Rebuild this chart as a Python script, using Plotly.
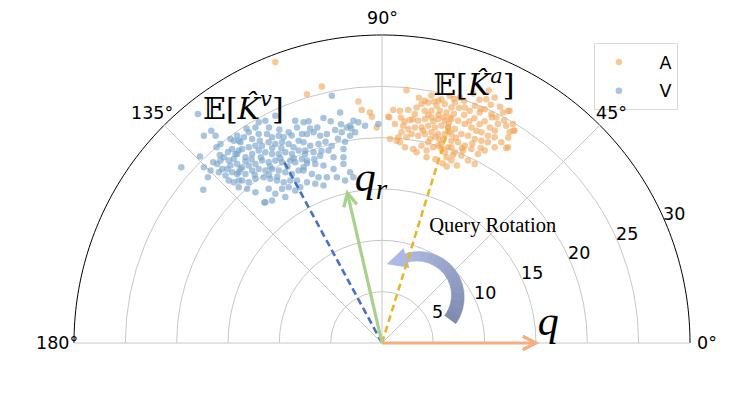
import numpy as np
import plotly.graph_objects as go

# ---------------- data ----------------
# Scatter clouds: Cartesian components in radial-axis units (x = r cos(theta), y = r sin(theta))
a_points = [
    (2.39, 24.63), (0.61, 22.04), (1.10, 22.69), (1.75, 22.62), (1.84, 21.97), (2.56, 22.69),
    (2.72, 21.72), (3.20, 22.30), (3.37, 22.95), (3.85, 23.27), (4.17, 23.59), (4.50, 23.43),
    (5.08, 23.53), (5.31, 23.11), (5.79, 23.75), (6.12, 23.27), (4.17, 22.62), (4.82, 22.62),
    (5.63, 22.62), (6.28, 22.46), (6.76, 22.95), (3.53, 21.65), (4.17, 21.81), (4.82, 21.97),
    (5.47, 21.81), (6.12, 21.65), (6.60, 21.97), (1.26, 21.33), (2.07, 21.17), (2.56, 20.84),
    (3.20, 21.00), (3.85, 21.00), (4.50, 21.17), (5.15, 21.00), (5.79, 21.17), (6.44, 21.00),
    (0.78, 19.87), (1.59, 20.03), (1.91, 20.52), (2.39, 20.03), (2.88, 20.36), (3.53, 20.19),
    (4.17, 20.36), (4.82, 20.52), (5.47, 20.36), (6.12, 20.36), (6.76, 20.36), (1.42, 19.71),
    (2.23, 19.06), (3.04, 18.90), (3.37, 18.58), (3.85, 19.22), (4.34, 18.74), (4.50, 19.55),
    (4.98, 19.06), (5.47, 19.22), (5.79, 19.39), (6.12, 18.58), (6.28, 18.09), (6.76, 19.06),
    (4.34, 18.09), (1.75, 19.55),
    (10.97, 23.92), (10.16, 23.75), (6.60, 24.08), (7.09, 23.43), (8.06, 22.95), (8.54, 22.62),
    (9.03, 23.11), (9.52, 22.46), (10.00, 22.78), (10.65, 22.30), (11.13, 21.97), (11.78, 22.46),
    (12.43, 22.62), (11.29, 21.33), (12.10, 21.17), (12.75, 21.33), (12.91, 20.68), (12.43, 20.52),
    (12.27, 19.06), (11.62, 19.55), (10.97, 20.03), (10.32, 20.19), (9.68, 20.52), (9.19, 20.68),
    (8.71, 21.00), (8.06, 21.33), (7.41, 21.65), (6.76, 21.81), (6.44, 21.00), (7.09, 20.84),
    (7.73, 20.36), (8.38, 20.19), (9.03, 19.87), (9.68, 19.71), (10.32, 19.55), (10.97, 19.06),
    (10.00, 18.74), (9.35, 18.41), (8.71, 18.90), (8.06, 19.22), (7.41, 19.55), (6.76, 19.71),
    (6.44, 19.06), (7.09, 18.58), (7.73, 18.25), (8.38, 17.77), (9.03, 17.44), (6.76, 17.77),
    (7.90, 18.74), (5.90, 17.50), (6.30, 17.20), (5.20, 17.90), (7.30, 17.30),
    (4.50, 22.20), (5.00, 21.60), (5.50, 22.20), (6.00, 22.00), (6.50, 21.40), (7.00, 22.30),
    (7.50, 22.90), (8.00, 22.20), (8.50, 21.60), (9.00, 21.90), (9.50, 21.30), (10.00, 21.60),
    (4.00, 20.70), (5.20, 20.10), (6.00, 19.90), (6.50, 20.60), (7.20, 20.00), (7.80, 19.00),
    (8.80, 19.40), (9.60, 19.00), (5.60, 19.80), (4.70, 19.90), (6.90, 18.30), (5.80, 18.90),
    (3.00, 21.80), (2.20, 21.60), (7.60, 23.90), (8.90, 24.30), (9.50, 23.70), (11.50, 23.00),
    (10.60, 23.20), (11.90, 21.70), (12.30, 20.00), (11.00, 20.70), (10.50, 21.00), (3.60, 23.90),
    (4.80, 24.10), (10.40, 24.60), (12.30, 22.60), (12.80, 20.70), (12.10, 19.00), (0.70, 22.00),
    (5.50, 23.60), (7.00, 23.80), (8.00, 23.60), (9.60, 22.80), (10.70, 22.00),
    (-10.39, 27.38), (-7.31, 24.24), (-5.86, 24.98), (-2.30, 23.53), (-1.97, 22.69),
    (-1.17, 22.46), (-0.97, 22.04), (-0.52, 21.00),
]

v_points = [
    (-17.93, 22.30), (-17.35, 20.19), (-16.63, 20.68), (-16.21, 20.19), (-15.73, 19.39),
    (-16.12, 19.06), (-17.73, 18.16), (-19.55, 17.12), (-17.35, 17.12), (-16.96, 16.15),
    (-17.41, 14.92), (-16.44, 17.61), (-16.05, 17.44), (-15.73, 17.77), (-15.57, 16.96),
    (-15.24, 16.31), (-14.92, 15.83), (-14.43, 15.66), (-14.60, 16.63), (-14.76, 17.28),
    (-14.92, 17.77), (-14.43, 17.93), (-14.11, 17.44), (-14.27, 18.41), (-13.95, 18.74),
    (-14.43, 19.71), (-14.76, 19.87), (-14.11, 20.19), (-13.79, 19.55), (-14.11, 16.47),
    (-13.79, 16.96), (-15.08, 16.96), (-15.40, 18.09), (-16.70, 16.80), (-15.89, 16.63),
    (-13.95, 15.83),
    (-10.39, 22.14), (-11.36, 21.65), (-12.33, 21.00), (-12.98, 20.52), (-13.46, 20.03),
    (-13.95, 19.71), (-12.65, 19.87), (-12.01, 20.36), (-11.20, 20.36), (-10.71, 20.03),
    (-10.06, 20.19), (-9.58, 20.03), (-9.09, 20.52), (-8.28, 21.00), (-8.45, 21.65),
    (-7.64, 21.49), (-7.80, 20.36), (-8.12, 19.71), (-8.61, 19.06), (-9.09, 19.39),
    (-9.74, 19.55), (-10.39, 19.39), (-11.04, 19.55), (-11.68, 19.22), (-12.33, 19.22),
    (-12.98, 19.06), (-13.62, 18.90), (-14.11, 18.41), (-13.30, 18.09), (-12.65, 18.41),
    (-12.01, 18.74), (-11.36, 18.58), (-10.71, 18.41), (-10.06, 18.41), (-9.42, 18.58),
    (-8.77, 18.41), (-8.12, 18.74), (-7.48, 18.74), (-7.80, 17.93), (-8.45, 17.61),
    (-8.93, 17.77), (-9.74, 17.61), (-10.39, 17.77), (-11.04, 17.61), (-11.68, 17.77),
    (-12.33, 17.44), (-12.98, 17.28), (-13.62, 17.12), (-13.95, 16.63), (-13.30, 16.47),
    (-12.65, 16.80), (-12.01, 16.96), (-11.36, 16.80), (-10.71, 16.96), (-10.06, 16.80),
    (-9.42, 16.63), (-8.77, 16.47), (-8.12, 16.80), (-7.64, 17.12), (-8.28, 15.83),
    (-8.93, 15.83), (-9.58, 15.66), (-10.23, 15.83), (-10.87, 15.99), (-11.52, 16.15),
    (-12.33, 15.99), (-12.98, 15.66), (-13.62, 15.83), (-13.95, 15.18), (-13.14, 15.02),
    (-12.33, 14.69), (-11.04, 15.02), (-10.39, 14.53), (-9.74, 15.02), (-9.09, 15.18),
    (-8.45, 14.85), (-7.96, 15.18), (-11.36, 13.72), (-10.71, 13.88), (-9.42, 14.21),
    (-4.89, 24.08), (-4.08, 22.46), (-5.70, 21.91), (-7.15, 21.59), (-2.78, 21.65),
    (-2.30, 21.49), (-3.11, 21.17), (-3.43, 21.00), (-2.62, 20.52), (-3.92, 20.52),
    (-4.56, 20.74), (-5.37, 20.36), (-6.02, 20.19), (-6.67, 20.52), (-7.31, 20.36),
    (-7.64, 19.55), (-6.99, 19.22), (-6.18, 19.39), (-7.48, 18.41), (-6.67, 18.58),
    (-6.02, 18.25), (-5.21, 18.74), (-4.72, 18.09), (-3.75, 18.90), (-3.11, 20.19),
    (-3.75, 18.09), (-7.31, 17.77), (-6.50, 17.44), (-5.70, 17.28), (-4.72, 16.96),
    (-3.75, 17.44), (-3.11, 16.63), (-7.64, 16.80), (-6.83, 16.47), (-6.18, 16.15),
    (-5.37, 16.15), (-4.40, 16.15), (-3.59, 15.82), (-2.78, 16.15), (-5.70, 15.34),
    (-6.50, 15.50), (-7.31, 15.66), (-1.65, 21.17), (-0.36, 21.33), (-11.46, 13.69),
    (-11.80, 18.10), (-10.90, 17.20), (-9.90, 18.00), (-9.20, 17.20), (-12.70, 17.90),
    (-13.30, 17.70), (-11.00, 16.40), (-10.20, 16.20), (-12.40, 16.40), (-9.80, 19.00),
    (-10.70, 19.00), (-11.90, 19.70), (-8.60, 18.00), (-7.30, 17.50), (-6.60, 17.90),
    (-5.90, 18.70), (-5.50, 19.60), (-4.90, 19.20), (-4.30, 19.90), (-3.60, 19.60),
    (-3.00, 20.90), (-4.00, 21.30), (-5.00, 21.60), (-6.30, 21.00), (-7.00, 20.90),
    (-8.80, 20.20), (-10.00, 20.80), (-11.00, 21.00), (-12.00, 21.50), (-13.20, 20.90),
    (-14.60, 18.90), (-15.00, 18.60), (-15.80, 18.30),
]

angle_ticks = [0, 45, 90, 135, 180]
angle_labels = ["0°", "45°", "90°", "135°", "180°"]
radial_ticks = [5, 10, 15, 20, 25, 30]
radial_max = 30

# vectors (angle in degrees, length in radial units)
q_theta, q_len = 0.0, 15.0
qr_theta, qr_len = 103.0, 15.0
ka_theta, ka_len = 72.8, 21.9
kv_theta, kv_len = 118.4, 20.2

# ---------------- styles ----------------
COL_A = "#F2A65A"
COL_V = "#77A2CC"
COL_Q = "#F3B07E"
COL_QR = "#A9D18E"
COL_KA = "#E9B52C"
COL_KV = "#4A6FC8"
GRID = "#C8C8C8"
TICK_FONT = dict(family="DejaVu Sans", size=17.5, color="black")
SERIF = "Liberation Serif, DejaVu Serif, serif"
MATH = "DejaVu Serif, DejaVu Sans, serif"


def to_polar(x, y):
    x = np.asarray(x, dtype=float)
    y = np.asarray(y, dtype=float)
    return np.hypot(x, y), np.degrees(np.arctan2(y, x))


def to_paper(x, y):
    # the half-disc [0, 180] x [0, radial_max] fills the whole plotting domain
    return (x + radial_max) / (2 * radial_max), y / radial_max


def chevron_xy(theta, length, wing=1.45, spread=27.0):
    t = np.radians(theta)
    tip = np.array([length * np.cos(t), length * np.sin(t)])
    xs, ys = [], []
    for s in (spread, None, -spread):
        if s is None:
            xs.append(tip[0]); ys.append(tip[1])
        else:
            a = t + np.pi + np.radians(s)
            xs.append(tip[0] + wing * np.cos(a)); ys.append(tip[1] + wing * np.sin(a))
    return xs, ys


fig = go.Figure()

# ---------------- curved "Query Rotation" arrow (decoration) ----------------
ROT_C = (3.50, 4.56)
ROT_R = 3.88
ROT_A0, ROT_A1 = -36.0, 107.0
W0, W1 = 1.36, 0.87
HEAD_LEN, HEAD_HALF = 1.94, 0.97
C_DARK = np.array([0x7E, 0x8B, 0xAF])
C_LIGHT = np.array([0xAD, 0xB9, 0xE1])
nseg = 14
edges = np.linspace(ROT_A0, ROT_A1, nseg + 1)
for i in range(nseg):
    a = np.radians(np.linspace(edges[i], edges[i + 1] + 0.6, 6))
    f0 = i / nseg
    f1 = (i + 1) / nseg
    w = np.linspace(W0 + (W1 - W0) * f0, W0 + (W1 - W0) * f1, len(a))
    ox = ROT_C[0] + (ROT_R + w / 2) * np.cos(a)
    oy = ROT_C[1] + (ROT_R + w / 2) * np.sin(a)
    ix = ROT_C[0] + (ROT_R - w[::-1] / 2) * np.cos(a[::-1])
    iy = ROT_C[1] + (ROT_R - w[::-1] / 2) * np.sin(a[::-1])
    px = np.concatenate([ox, ix, ox[:1]])
    py = np.concatenate([oy, iy, oy[:1]])
    rr, tt = to_polar(px, py)
    c = C_DARK + (C_LIGHT - C_DARK) * ((f0 + f1) / 2)
    col = "rgb(%d,%d,%d)" % tuple(c.astype(int))
    fig.add_trace(go.Scatterpolar(r=rr, theta=tt, mode="lines", fill="toself",
                                  fillcolor=col, line=dict(color=col, width=0.5),
                                  showlegend=False, hoverinfo="skip"))
ae = np.radians(ROT_A1)
base_o = (ROT_C[0] + (ROT_R + HEAD_HALF) * np.cos(ae), ROT_C[1] + (ROT_R + HEAD_HALF) * np.sin(ae))
base_i = (ROT_C[0] + (ROT_R - HEAD_HALF) * np.cos(ae), ROT_C[1] + (ROT_R - HEAD_HALF) * np.sin(ae))
mid = (ROT_C[0] + ROT_R * np.cos(ae), ROT_C[1] + ROT_R * np.sin(ae))
tip = (mid[0] - HEAD_LEN * np.sin(ae), mid[1] + HEAD_LEN * np.cos(ae))
hx = [base_o[0], tip[0], base_i[0], base_o[0]]
hy = [base_o[1], tip[1], base_i[1], base_o[1]]
rr, tt = to_polar(hx, hy)
colh = "rgb(%d,%d,%d)" % tuple(C_LIGHT)
fig.add_trace(go.Scatterpolar(r=rr, theta=tt, mode="lines", fill="toself",
                              fillcolor=colh, line=dict(color=colh, width=0.5),
                              showlegend=False, hoverinfo="skip"))

# ---------------- scatter clouds ----------------
ar, at = to_polar([p[0] for p in a_points], [p[1] for p in a_points])
vr, vt = to_polar([p[0] for p in v_points], [p[1] for p in v_points])
NBSP = "\u00a0"
fig.add_trace(go.Scatterpolar(r=ar, theta=at, mode="markers", name=NBSP * 3 + "A", legendgroup="A",
                              marker=dict(color=COL_A, size=6.5, opacity=0.62, line=dict(width=0))))
fig.add_trace(go.Scatterpolar(r=vr, theta=vt, mode="markers", name=NBSP * 3 + "V", legendgroup="V",
                              marker=dict(color=COL_V, size=6.5, opacity=0.64, line=dict(width=0))))

# ---------------- dashed mean directions ----------------
fig.add_trace(go.Scatterpolar(r=[0, ka_len], theta=[ka_theta, ka_theta], mode="lines",
                              line=dict(color=COL_KA, width=2.6, dash="7px,4px"),
                              showlegend=False, hoverinfo="skip"))
fig.add_trace(go.Scatterpolar(r=[0, kv_len], theta=[kv_theta, kv_theta], mode="lines",
                              line=dict(color=COL_KV, width=2.6, dash="7px,4px"),
                              showlegend=False, hoverinfo="skip"))

shapes = []
# ---------------- outer boundary arc (the polar frame, arc only) ----------------
arc_t = np.radians(np.linspace(0, 180, 181))
arc_pts = [to_paper(radial_max * np.cos(t), radial_max * np.sin(t)) for t in arc_t]
arc_path = "M " + " L ".join("%.6f %.6f" % p for p in arc_pts)
shapes.append(dict(type="path", xref="paper", yref="paper", path=arc_path,
                   line=dict(color="black", width=1), layer="below"))

# ---------------- query vectors (drawn as shapes so they are not clipped at 0°) ----------------
for th, ln, col in ((q_theta, q_len, COL_Q), (qr_theta, qr_len, COL_QR)):
    t = np.radians(th)
    x0, y0 = to_paper(0.0, 0.0)
    x1, y1 = to_paper(ln * np.cos(t), ln * np.sin(t))
    shapes.append(dict(type="path", xref="paper", yref="paper",
                       path="M %.6f %.6f L %.6f %.6f" % (x0, y0, x1, y1),
                       line=dict(color=col, width=3.2)))
    cx, cy = chevron_xy(th, ln)
    pts = [to_paper(a, b) for a, b in zip(cx, cy)]
    shapes.append(dict(type="path", xref="paper", yref="paper",
                       path="M %.6f %.6f L %.6f %.6f L %.6f %.6f" % (pts[0] + pts[1] + pts[2]),
                       line=dict(color=col, width=3.2)))

# ---------------- text labels ----------------
labels = [
    (26.3, 120.9, "𝔼[<i>K̂</i><sup><i>v</i></sup>]", dict(family=MATH, size=30, color="black")),
    (26.4, 70.2, "𝔼[<i>K̂</i><sup><i>a</i></sup>]", dict(family=MATH, size=30, color="black")),
    (15.9, 93.9, "<i>q</i><sub><i>r</i></sub>", dict(family=SERIF, size=42, color="black")),
    (16.3, 6.2, "<i>q</i>", dict(family=SERIF, size=42, color="black")),
    (15.66, 46.5, "Query Rotation", dict(family=SERIF, size=20.5, color="black")),
]
for r_, t_, s_, f_ in labels:
    fig.add_trace(go.Scatterpolar(r=[r_], theta=[t_], mode="text", text=[s_], textfont=f_,
                                  textposition="middle center", cliponaxis=False,
                                  showlegend=False, hoverinfo="skip"))

# ---------------- tick labels (placed as matplotlib does) ----------------
annotations = []
rt = np.array(radial_ticks, dtype=float)
lab_a = np.radians(22.5)
lx = (rt + 1.1) * np.cos(lab_a) - 0.7 * np.sin(lab_a)
ly = (rt + 1.1) * np.sin(lab_a) + 0.7 * np.cos(lab_a)
for v, x_, y_ in zip(radial_ticks, lx, ly):
    px_, py_ = to_paper(x_, y_)
    annotations.append(dict(x=px_, y=py_, xref="paper", yref="paper", text=str(v),
                            showarrow=False, font=TICK_FONT, xanchor="center", yanchor="middle"))
lab_r = radial_max * 1.055
for ang, txt in zip(angle_ticks, angle_labels):
    t = np.radians(ang)
    px_, py_ = to_paper(lab_r * np.cos(t), lab_r * np.sin(t))
    annotations.append(dict(x=px_, y=py_, xref="paper", yref="paper", text=txt,
                            showarrow=False, font=TICK_FONT, xanchor="center", yanchor="middle"))

fig.update_layout(
    width=748, height=398,
    margin=dict(l=66, r=66, t=27, b=63),
    paper_bgcolor="white",
    showlegend=True,
    annotations=annotations,
    shapes=shapes,
    legend=dict(x=0.844, y=0.974, xanchor="left", yanchor="top",
                bgcolor="rgba(255,255,255,0.8)", bordercolor="#D9D9D9", borderwidth=1,
                font=dict(family="DejaVu Sans", size=17.5, color="black"),
                itemwidth=38, tracegroupgap=3, traceorder="grouped"),
    polar=dict(
        domain=dict(x=[0, 1], y=[0, 1]),
        sector=[0, 180],
        bgcolor="rgba(0,0,0,0)",
        radialaxis=dict(range=[0, radial_max], tickvals=radial_ticks, showticklabels=False,
                        showline=False, ticks="", gridcolor=GRID, gridwidth=1, angle=22.5),
        angularaxis=dict(rotation=0, direction="counterclockwise", tickmode="array",
                         tickvals=angle_ticks, ticktext=angle_labels, ticks="",
                         showticklabels=False, showline=False,
                         gridcolor=GRID, gridwidth=1),
    ),
)

fig.write_html("out.html")
